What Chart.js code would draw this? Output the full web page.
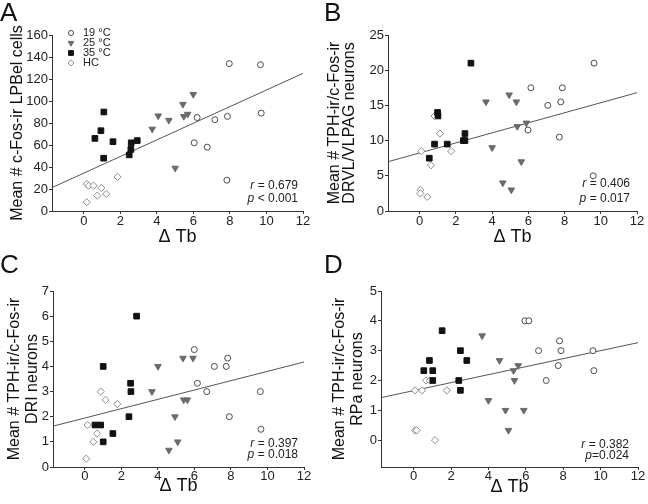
<!DOCTYPE html>
<html>
<head>
<meta charset="utf-8">
<script src="https://cdn.jsdelivr.net/npm/chart.js@4.4.0/dist/chart.umd.min.js"></script>
<style>
  html, body { margin: 0; padding: 0; background: #fff; }
  #wrap { position: relative; width: 648px; height: 504px; }
  .cell { position: absolute; width: 324px; height: 252px; }
</style>
</head>
<body>
<div id="wrap">
  <div class="cell" style="left:0;top:0"><canvas id="chartA" width="324" height="252"></canvas></div>
  <div class="cell" style="left:324px;top:0"><canvas id="chartB" width="324" height="252"></canvas></div>
  <div class="cell" style="left:0;top:252px"><canvas id="chartC" width="324" height="252"></canvas></div>
  <div class="cell" style="left:324px;top:252px"><canvas id="chartD" width="324" height="252"></canvas></div>
</div>
<script>
// shared
const FONT = "'Liberation Sans', Arial, sans-serif";
const groups = ["19 °C", "25 °C", "35 °C", "HC"];
const xTicks = [0, 2, 4, 6, 8, 10, 12];
const xRange = [-1.75, 12];

// panel A - LPBel
const a19 = [[7.96, 134], [9.67, 133], [6.2, 85], [7.17, 83], [7.86, 86], [9.71, 89], [6.04, 62], [6.75, 58], [7.83, 28]];
const a25 = [[3.74, 74.5], [4.07, 86.5], [4.65, 82.5], [5.42, 97], [5.47, 86], [5.68, 88], [5.99, 106], [5.0, 39]];
const a35 = [[0.6, 66], [0.93, 73], [1.09, 90], [1.08, 48], [1.59, 63], [2.48, 51], [2.57, 56], [2.59, 62], [2.92, 64]];
const aHC = [[0.15, 8], [0.15, 24.5], [0.26, 23], [0.53, 23], [0.73, 14], [0.95, 21], [1.22, 15.5], [1.84, 31]];
const aFit = [34.5, 7.55]; // intercept, slope
const aYTicks = [0, 20, 40, 60, 80, 100, 120, 140, 160];
const aStats = [["r", " = 0.679"], ["p", " < 0.001"]];

// panel B - DRVL/VLPAG
const b19 = [[6.14, 17.5], [7.07, 15], [7.79, 15.5], [7.88, 17.5], [9.63, 21], [5.98, 11.5], [7.71, 10.5], [9.58, 5]];
const b25 = [[3.66, 15.5], [4.94, 16.5], [5.34, 15.5], [5.39, 12], [5.89, 12.5], [4.0, 9], [5.61, 7], [4.59, 4], [5.06, 3]];
const b35 = [[2.83, 21], [0.99, 14], [1.01, 13.5], [0.82, 9.5], [1.52, 9.5], [0.53, 7.5], [2.5, 11], [2.41, 10], [2.5, 10]];
const bHC = [[0.09, 8.5], [0.62, 6.5], [1.12, 11], [1.74, 8.5], [0.04, 3], [0.04, 2.5], [0.42, 2], [0.82, 13.5]];
const bFit = [8.25, 0.713];
const bYTicks = [0, 5, 10, 15, 20, 25];
const bStats = [["r", " = 0.406"], ["p", " = 0.017"]];

// panel C - DRI
const c19 = [[5.99, 4.67], [7.82, 4.33], [7.09, 4], [7.74, 4], [6.16, 3.33], [6.67, 3], [9.61, 3], [7.91, 2], [9.64, 1.5]];
const c25 = [[5.37, 4.33], [5.92, 4.33], [4.0, 4], [3.67, 3], [5.41, 2.67], [5.61, 2.67], [4.93, 2], [5.08, 1], [4.6, 0.67]];
const c35 = [[2.83, 6], [1.0, 4], [2.5, 3.33], [2.52, 3], [2.41, 2], [0.55, 1.67], [0.86, 1.67], [1.53, 1.33], [1.0, 1]];
const cHC = [[0.86, 3], [1.13, 2.67], [1.77, 2.5], [0.15, 1.67], [0.66, 1.33], [0.46, 1], [0.07, 0.33]];
const cFit = [1.95, 0.1855];
const cYTicks = [0, 1, 2, 3, 4, 5, 6, 7];
const cStats = [["r", " = 0.397"], ["p", " = 0.018"]];

// panel D - RPa
const d19 = [[5.95, 4], [6.16, 4], [7.8, 3.33], [6.68, 3], [7.88, 3], [9.59, 3], [7.73, 2.5], [9.64, 2.33], [7.09, 2]];
const d25 = [[3.66, 3.5], [4.59, 2.67], [5.59, 2.5], [5.34, 2.33], [5.39, 2], [4.0, 1.33], [4.91, 1], [5.89, 1], [5.07, 0.33]];
const d35 = [[1.52, 3.67], [2.5, 3], [0.54, 2.33], [0.84, 2.67], [1.02, 2.33], [1.02, 2], [2.41, 2], [2.5, 1.67], [2.84, 2.67]];
const dHC = [[0.07, 1.67], [0.45, 1.67], [0.66, 2], [0.86, 2], [1.77, 1.67], [0.07, 0.33], [0.16, 0.33], [1.14, 0]];
const dFit = [1.66, 0.134];
const dYTicks = [0, 1, 2, 3, 4, 5];
const dStats = [["r", " = 0.382"], ["p", "=0.024"]];

const toPts = arr => arr.map(p => ({ x: p[0], y: p[1] }));

// legend drawn inside the plot (panel A only)
const insetLegend = {
  id: "insetLegend",
  afterDatasetsDraw(chart, args, opts) {
    if (!opts.show) return;
    const ctx = chart.ctx, area = chart.chartArea;
    ctx.save();
    chart.data.datasets.forEach((ds, i) => {
      if (ds.isFit) return;
      const x = area.left + opts.x0, y = area.top + opts.y0 + i * opts.dy;
      ctx.fillStyle = ds.backgroundColor;
      ctx.strokeStyle = ds.borderColor;
      ctx.lineWidth = 1;
      Chart.helpers.drawPoint(ctx, {
        pointStyle: ds.pointStyle, rotation: ds.pointRotation || 0,
        radius: ds.pointRadius * 0.85, borderWidth: 1
      }, x, y);
      ctx.fillStyle = "#222";
      ctx.font = "11px " + FONT;
      ctx.textBaseline = "middle";
      ctx.textAlign = "left";
      ctx.fillText(ds.label, area.left + opts.tx, y);
    });
    ctx.restore();
  }
};

// r / p text in the lower right corner
const statsLabel = {
  id: "statsLabel",
  afterDraw(chart, args, opts) {
    const ctx = chart.ctx, area = chart.chartArea;
    ctx.save();
    ctx.fillStyle = "#222";
    ctx.textBaseline = "middle";
    opts.lines.forEach((ln, i) => {
      const y = area.bottom + opts.y[i];
      ctx.font = "italic 12px " + FONT;
      const w1 = ctx.measureText(ln[0]).width;
      ctx.font = "12px " + FONT;
      const w2 = ctx.measureText(ln[1]).width;
      const x = area.right + opts.dx - w1 - w2;
      ctx.font = "italic 12px " + FONT;
      ctx.fillText(ln[0], x, y);
      ctx.font = "12px " + FONT;
      ctx.fillText(ln[1], x + w1, y);
    });
    ctx.restore();
  }
};

function makePanel(id, p) {
  const fitPts = xRange.map(x => ({ x: x, y: p.fit[0] + p.fit[1] * x }));
  return new Chart(document.getElementById(id), {
    type: "scatter",
    data: {
      datasets: [
        { label: groups[0], data: toPts(p.g19), pointStyle: "circle", pointRadius: 3,
          backgroundColor: "#fff", borderColor: "#4a4a4a", borderWidth: 1 },
        { label: groups[1], data: toPts(p.g25), pointStyle: "triangle", pointRotation: 180, pointRadius: 3.8,
          backgroundColor: "#6b6b6b", borderColor: "#6b6b6b", borderWidth: 1 },
        { label: groups[2], data: toPts(p.g35), pointStyle: "rect", pointRadius: 4,
          backgroundColor: "#111", borderColor: "#111", borderWidth: 1 },
        { label: groups[3], data: toPts(p.gHC), pointStyle: "rectRot", pointRadius: 3.6,
          backgroundColor: "#fff", borderColor: "#8c8c8c", borderWidth: 1 },
        { type: "line", isFit: true, data: fitPts, pointRadius: 0, borderColor: "#555",
          borderWidth: 1, showLine: true, fill: false }
      ]
    },
    options: {
      responsive: false,
      animation: false,
      events: [],
      layout: { padding: { left: 0, top: 0, right: 324 - p.R, bottom: 0 } },
      scales: {
        x: {
          type: "linear", min: xRange[0], max: xRange[1],
          afterBuildTicks: ax => { ax.ticks = xTicks.map(v => ({ value: v })); },
          afterFit: ax => { ax.height = 252 - p.B; },
          grid: { drawOnChartArea: false, drawTicks: true, tickLength: 3, color: "#333" },
          border: { display: true, color: "#333", width: 1 },
          ticks: { color: "#222", padding: p.xPad, font: { family: FONT, size: 13, lineHeight: 1 } },
          title: { display: true, text: "Δ Tb", color: "#111",
                   font: { family: FONT, size: 18 }, padding: { top: 0, bottom: p.tPad } }
        },
        y: {
          type: "linear", min: p.yMin, max: p.yTicks[p.yTicks.length - 1],
          afterBuildTicks: ax => { ax.ticks = p.yTicks.map(v => ({ value: v })); },
          afterFit: ax => { ax.width = p.L; },
          grid: { drawOnChartArea: false, drawTicks: true, tickLength: 3, color: "#333" },
          border: { display: true, color: "#333", width: 1 },
          ticks: { color: "#222", padding: 1, font: { family: FONT, size: 13 } },
          title: { display: true, text: p.yTitle, color: "#111",
                   font: { family: FONT, size: 16, lineHeight: p.yLh }, padding: { top: p.yPad, bottom: 0 } }
        }
      },
      plugins: {
        legend: { display: false },
        tooltip: { enabled: false },
        title: { display: true, text: p.letter, align: "start", color: "#111",
                 font: { family: FONT, size: 26, weight: "normal", lineHeight: 1 },
                 padding: { top: 1, bottom: p.T - 27 } },
        insetLegend: { show: !!p.legend, x0: 19, tx: 31, y0: -2, dy: 10 },
        statsLabel: { lines: p.stats, dx: p.sdx, y: p.sy }
      }
    },
    plugins: [insetLegend, statsLabel]
  });
}

makePanel("chartA", {
  letter: "A", g19: a19, g25: a25, g35: a35, gHC: aHC, fit: aFit, yTicks: aYTicks, yMin: 0,
  yTitle: "Mean # c-Fos-ir LPBel cells", yLh: 1, yPad: 10,
  L: 52, R: 303, T: 35, B: 211, xPad: 1, tPad: 4, legend: true,
  stats: aStats, sdx: -5, sy: [-25, -12]
});
makePanel("chartB", {
  letter: "B", g19: b19, g25: b25, g35: b35, gHC: bHC, fit: bFit, yTicks: bYTicks, yMin: 0,
  yTitle: ["Mean # TPH-ir/c-Fos-ir", "DRVL/VLPAG neurons"], yLh: 0.95, yPad: 3,
  L: 64, R: 313, T: 35, B: 211, xPad: 1, tPad: 4,
  stats: bStats, sdx: -7, sy: [-27, -12]
});
makePanel("chartC", {
  letter: "C", g19: c19, g25: c25, g35: c35, gHC: cHC, fit: cFit, yTicks: cYTicks, yMin: 0,
  yTitle: ["Mean # TPH-ir/c-Fos-ir", "DRI neurons"], yLh: 1.1, yPad: 6,
  L: 53, R: 304, T: 39, B: 215, xPad: 0, tPad: 7,
  stats: cStats, sdx: -6, sy: [-23, -12]
});
makePanel("chartD", {
  letter: "D", g19: d19, g25: d25, g35: d35, gHC: dHC, fit: dFit, yTicks: dYTicks, yMin: -0.9,
  yTitle: ["Mean # TPH-ir/c-Fos-ir", "RPa neurons"], yLh: 1.1, yPad: 7,
  L: 57, R: 314, T: 39, B: 215, xPad: 0, tPad: 6,
  stats: dStats, sdx: -9, sy: [-22, -11]
});
</script>
</body>
</html>
